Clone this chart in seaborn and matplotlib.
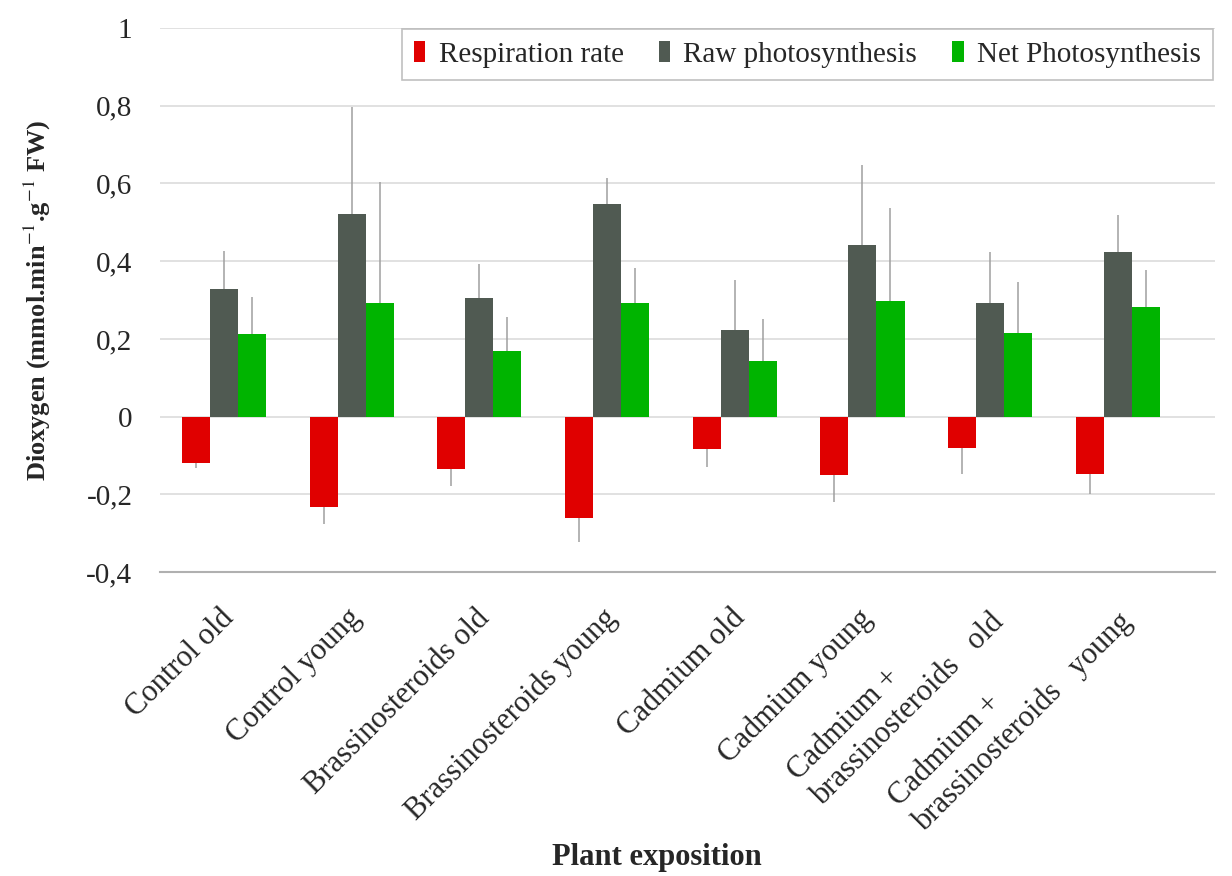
import numpy as np
import pandas as pd
import matplotlib
matplotlib.use("Agg")
import matplotlib.pyplot as plt
import matplotlib.transforms as mtransforms
import seaborn as sns

# Dados
grupos = ["Control old", "Control young", "Brassinosteroids old", "Brassinosteroids young",
          "Cadmium old", "Cadmium young", "Cadmium +\nbrassinosteroids   old",
          "Cadmium +\nbrassinosteroids   young"]
series = ["Respiration rate", "Raw photosynthesis", "Net Photosynthesis"]

respiracao = [-0.119, -0.232, -0.134, -0.262, -0.083, -0.150, -0.080, -0.147]
respiracao_err = [0.014, 0.045, 0.044, 0.060, 0.047, 0.070, 0.067, 0.053]
bruta = [0.328, 0.521, 0.305, 0.547, 0.222, 0.441, 0.292, 0.423]
bruta_err = [0.098, 0.276, 0.087, 0.067, 0.129, 0.207, 0.131, 0.096]
liquida = [0.212, 0.292, 0.170, 0.292, 0.142, 0.297, 0.214, 0.281]
liquida_err = [0.095, 0.312, 0.086, 0.090, 0.108, 0.240, 0.132, 0.096]

yticks = [-0.4, -0.2, 0, 0.2, 0.4, 0.6, 0.8, 1]
ytick_labels = ["-0,4", "-0,2", "0", "0,2", "0,4", "0,6", "0,8", "1"]

cores = ["#e00000", "#505a52", "#00b400"]

# Monta o dataframe no formato longo
dados = pd.DataFrame({
    "grupo": grupos * 3,
    "serie": [s for s in series for _ in grupos],
    "valor": respiracao + bruta + liquida,
})
erros = [respiracao_err, bruta_err, liquida_err]

sns.set_style("white")
plt.rcParams["font.family"] = ["Liberation Serif", "DejaVu Serif"]
plt.rcParams["mathtext.fontset"] = "stix"

fig = plt.figure(figsize=(12.32, 8.76), dpi=100)
ax = fig.add_axes([0.13, 0.347, 0.856, 0.621])

sns.barplot(data=dados, x="grupo", y="valor", hue="serie", palette=cores,
            width=0.66, saturation=1, errorbar=None, linewidth=0, ax=ax, legend=True)

# Barras de erro (só de um lado, sem tampa)
containers = list(ax.containers)
for k, cont in enumerate(containers):
    for barra, e in zip(cont, erros[k]):
        xc = barra.get_x() + barra.get_width() / 2
        h = barra.get_height()
        if h < 0:
            yerr = [[e], [0]]
        else:
            yerr = [[0], [e]]
        ax.errorbar(xc, h, yerr=yerr, fmt="none", ecolor="#9f9f9f", elinewidth=1.1, capsize=0)

ax.set_ylim(-0.4, 1.0)
ax.set_xlim(-0.5, 7.76)
ax.set_yticks(yticks)
ax.set_yticklabels(ytick_labels, fontsize=21)
ax.tick_params(axis="y", length=0, pad=20)
ax.tick_params(axis="x", length=0, pad=34)
ax.set_xticks(range(len(grupos)))
ax.set_xticklabels(grupos, rotation=45, ha="right", va="baseline",
                   rotation_mode="anchor", fontsize=22, multialignment="left",
                   linespacing=1.25)
# desloca os rótulos um pouco para a direita, como no original
desloc = mtransforms.ScaledTranslation(0.11, 0, fig.dpi_scale_trans)
for rot in ax.get_xticklabels():
    rot.set_transform(rot.get_transform() + desloc)

ax.grid(axis="y", color="#dcdcdc", linewidth=1.2)
ax.set_axisbelow(True)
for lado in ["left", "right", "top"]:
    ax.spines[lado].set_visible(False)
ax.spines["bottom"].set_color("#b0b0b0")
ax.spines["bottom"].set_linewidth(1.5)

ax.set_xlabel("")
ax.set_ylabel("Dioxygen (mmol.min$^{-1}$.g$^{-1}$ FW)", fontsize=19, fontweight="bold", labelpad=24)
fig.text(0.533, 0.004, "Plant exposition", fontsize=22, fontweight="bold", ha="center", va="bottom")

leg = ax.legend(ncol=3, loc="upper right", bbox_to_anchor=(1213 / 1232, 1 - 29 / 876),
                bbox_transform=fig.transFigure, fontsize=21, frameon=True, fancybox=False,
                handlelength=0.4, handleheight=0.7, handletextpad=0.45, columnspacing=1.2,
                borderpad=0.42, borderaxespad=0, edgecolor="#b0b0b0")
leg.get_frame().set_linewidth(1.2)

fig.savefig("out.png", dpi=100)
